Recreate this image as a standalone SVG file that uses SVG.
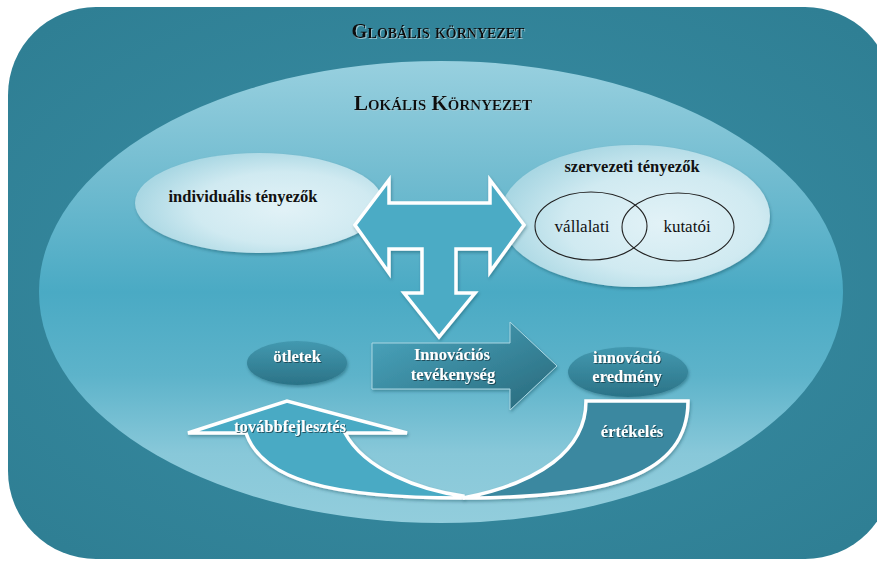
<svg xmlns="http://www.w3.org/2000/svg" width="877" height="561" viewBox="0 0 877 561">
<defs>
  <radialGradient id="gOuter" cx="0.5" cy="0.5" r="0.65">
    <stop offset="0" stop-color="#3a8fa6"/>
    <stop offset="1" stop-color="#2f7f94"/>
  </radialGradient>
  <linearGradient id="gLocal" x1="0" y1="0" x2="0" y2="1">
    <stop offset="0" stop-color="#98d0df"/>
    <stop offset="0.25" stop-color="#72bcd0"/>
    <stop offset="0.5" stop-color="#4aaac4"/>
    <stop offset="0.68" stop-color="#5db3ca"/>
    <stop offset="0.85" stop-color="#88c8d9"/>
    <stop offset="1" stop-color="#92cddc"/>
  </linearGradient>
  <radialGradient id="gLight" cx="0.6" cy="0.55" r="0.6">
    <stop offset="0" stop-color="#e2f2f7"/>
    <stop offset="0.6" stop-color="#d0eaf1"/>
    <stop offset="1" stop-color="#a9d7e3"/>
  </radialGradient>
  <linearGradient id="gDark" x1="0" y1="0" x2="0" y2="1">
    <stop offset="0" stop-color="#4399b0"/>
    <stop offset="1" stop-color="#2b7387"/>
  </linearGradient>
  <linearGradient id="gInno" x1="0" y1="0" x2="1" y2="1">
    <stop offset="0" stop-color="#4ca8c1"/>
    <stop offset="1" stop-color="#27687a"/>
  </linearGradient>
  <filter id="shadow" x="-10%" y="-10%" width="130%" height="140%">
    <feDropShadow dx="1" dy="2" stdDeviation="1.5" flood-color="#0c3a47" flood-opacity="0.35"/>
  </filter>
  <filter id="txtDark" x="-5%" y="-20%" width="110%" height="150%">
    <feDropShadow dx="1" dy="1" stdDeviation="0.6" flood-color="#123f4c" flood-opacity="0.8"/>
  </filter>
  <filter id="txtLight" x="-5%" y="-20%" width="110%" height="150%">
    <feDropShadow dx="1" dy="1" stdDeviation="0.5" flood-color="#9fc9d4" flood-opacity="0.9"/>
  </filter>
  <style>
    .serif{font-family:"Liberation Serif","Times New Roman",serif;}
    .title{font-weight:bold;fill:#111;font-variant:small-caps;}
    .lbl{font-weight:bold;fill:#111;font-size:16.5px;}
    .venn{fill:#111;font-size:17px;}
    .wlbl{font-weight:bold;fill:#fff;font-size:16.5px;}
    .arrowStroke{stroke:#ffffff;stroke-width:3.5;stroke-linejoin:miter;}
  </style>
</defs>

<g id="global-environment">
  <rect x="8" y="7" width="885" height="552" rx="88" ry="88" fill="url(#gOuter)"/>
  <text class="serif title" x="438" y="38" font-size="20.5" text-anchor="middle" filter="url(#txtLight)">Globális környezet</text>
</g>

<g id="local-environment">
  <ellipse cx="441" cy="292" rx="402" ry="231" fill="url(#gLocal)"/>
  <text class="serif title" x="443" y="110" font-size="21" text-anchor="middle" filter="url(#txtLight)">Lokális Környezet</text>
</g>

<g id="individual-factors">
  <ellipse cx="259" cy="203" rx="124" ry="50" fill="url(#gLight)" filter="url(#shadow)"/>
  <text class="serif lbl" x="243" y="202" text-anchor="middle">individuális tényezők</text>
</g>

<g id="organizational-factors">
  <ellipse cx="635" cy="216" rx="135" ry="71" fill="url(#gLight)" filter="url(#shadow)"/>
  <text class="serif lbl" x="632" y="172" text-anchor="middle">szervezeti tényezők</text>
  <g id="corporate">
    <ellipse cx="591" cy="226" rx="56" ry="34" fill="none" stroke="#222" stroke-width="1.1"/>
    <text class="serif venn" x="582" y="232" text-anchor="middle">vállalati</text>
  </g>
  <g id="research">
    <ellipse cx="678" cy="227" rx="56" ry="34" fill="none" stroke="#222" stroke-width="1.1"/>
    <text class="serif venn" x="687" y="232" text-anchor="middle">kutatói</text>
  </g>
</g>

<g id="ideas">
  <ellipse cx="297" cy="363" rx="50" ry="22" fill="url(#gDark)" filter="url(#shadow)"/>
  <text class="serif wlbl" x="297" y="362" text-anchor="middle" filter="url(#txtDark)">ötletek</text>
</g>

<g id="innovation-result">
  <ellipse cx="628" cy="372" rx="60" ry="25" fill="url(#gDark)" filter="url(#shadow)"/>
  <text class="serif wlbl" x="627" y="363" text-anchor="middle" filter="url(#txtDark)">innováció</text>
  <text class="serif wlbl" x="627" y="382" text-anchor="middle" filter="url(#txtDark)">eredmény</text>
</g>

<g id="connectors">
  <g id="three-way-arrow">
    <path class="arrowStroke" d="M355,225 L389,180 L389,203 L490,203 L490,180 L524,225 L490,272 L490,249 L456,249 L456,293 L475,293 L439,337 L404,293 L422,293 L422,249 L389,249 L389,273 Z" fill="#4babc5" filter="url(#shadow)"/>
  </g>
  <g id="innovation-activity">
    <path d="M372,343 L510,343 L510,322 L557,366 L510,410 L510,389 L372,389 Z" fill="url(#gInno)" stroke="#a9d6e2" stroke-width="1" filter="url(#shadow)"/>
    <text class="serif wlbl" x="452" y="360" text-anchor="middle" filter="url(#txtDark)">Innovációs</text>
    <text class="serif wlbl" x="453" y="380" text-anchor="middle" filter="url(#txtDark)">tevékenység</text>
  </g>
  <g id="development-arrow">
    <path class="arrowStroke" d="M463,498 C330,498 262,480 246,433 L188,433 L287,401 L407,433 L345,433 C365,470 420,490 463,496 Z" fill="#4aaac4" filter="url(#shadow)"/>
    <text class="serif wlbl" x="290" y="432" font-size="15.5" text-anchor="middle" filter="url(#txtDark)">továbbfejlesztés</text>
  </g>
  <g id="evaluation-arrow">
    <path class="arrowStroke" d="M586,401 L688,401 C688,475 610,498 463,498 C540,483 586,450 586,401 Z" fill="#3b88a0" filter="url(#shadow)"/>
    <text class="serif wlbl" x="632" y="437" text-anchor="middle" filter="url(#txtDark)">értékelés</text>
  </g>
</g>
</svg>
